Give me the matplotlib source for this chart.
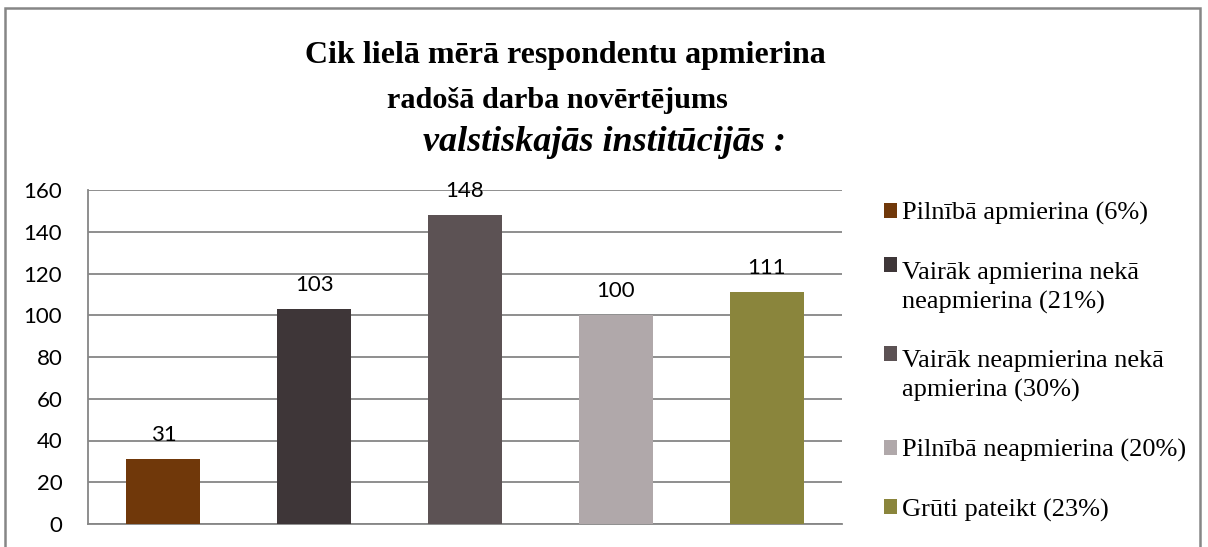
import matplotlib
matplotlib.use('Agg')
import matplotlib.pyplot as plt
from matplotlib.patches import Patch, Rectangle
from matplotlib.legend_handler import HandlerBase

W, H = 1208, 547

categories = ['Pilnībā apmierina (6%)',
              'Vairāk apmierina nekā\nneapmierina (21%)',
              'Vairāk neapmierina nekā\napmierina (30%)',
              'Pilnībā neapmierina (20%)',
              'Grūti pateikt (23%)']
values = [31, 103, 148, 100, 111]
colors = ['#70380A', '#3E3638', '#5C5254', '#B0A8AA', '#8A853C']
yticks = [0, 20, 40, 60, 80, 100, 120, 140, 160]

LSP = 1.38  # legend line spacing


class FirstLineSquare(HandlerBase):
    """Square legend key aligned with the first line of a (multi-line) label."""

    def __init__(self, nlines):
        super().__init__()
        self.nlines = nlines

    def create_artists(self, legend, orig_handle, xdescent, ydescent,
                       width, height, fontsize, trans):
        lift = 0.5 * 1.2 * LSP * fontsize * (self.nlines - 1)
        p = Rectangle((-xdescent, -ydescent + lift), width, height,
                      facecolor=orig_handle.get_facecolor(), edgecolor='none',
                      transform=trans)
        return [p]


fig = plt.figure(figsize=(W / 100, H / 100), dpi=100, facecolor='white')

# outer chart frame (bottom edge is cut off in the original)
fig.patches.append(Rectangle((5 / W, -0.05), 1195 / W, 1.05 - 8 / H,
                             transform=fig.transFigure, fill=False,
                             ec='#868686', lw=1.8))

ax = fig.add_axes([88 / W, 1 - 524 / H, (842 - 88) / W, (524 - 190) / H])
x = list(range(len(values)))
ax.bar(x, values, width=0.49, color=colors, zorder=3)
ax.set_xlim(-0.5, len(values) - 0.5)
ax.set_ylim(0, 160)
ax.set_yticks(yticks)
ax.set_xticks([])
ax.tick_params(axis='y', length=0, pad=18.5, labelsize=16, labelcolor='black')
for lbl in ax.get_yticklabels():
    lbl.set_family('Lato')
ax.grid(axis='y', color='#868686', lw=1.3, zorder=0)
for s in ('top', 'right'):
    ax.spines[s].set_visible(False)
for s in ('left', 'bottom'):
    ax.spines[s].set_color('#868686')
    ax.spines[s].set_linewidth(1.3)

for xi, v in zip(x, values):
    ax.annotate(str(v), (xi, v), xytext=(0, 10), textcoords='offset points',
                ha='center', va='bottom', fontsize=16, family='Lato',
                color='black')

fig.text(565 / W, 1 - 63 / H, 'Cik lielā mērā respondentu apmierina',
         ha='center', va='baseline', fontsize=23, fontweight='bold',
         family='Liberation Serif')
fig.text(557 / W, 1 - 108 / H, 'radošā darba novērtējums',
         ha='center', va='baseline', fontsize=21.8, fontweight='bold',
         family='Liberation Serif')
fig.text(604 / W, 1 - 151 / H, 'valstiskajās institūcijās :',
         ha='center', va='baseline', fontsize=26, fontweight='bold',
         style='italic', family='Liberation Serif')

handles = [Patch(facecolor=c) for c in colors]
hmap = {h: FirstLineSquare(lab.count('\n') + 1) for h, lab in zip(handles, categories)}
leg = fig.legend(handles, categories, loc='upper left', handler_map=hmap,
                 bbox_to_anchor=(884 / W, 1 - 202 / H), frameon=False,
                 prop={'family': 'Liberation Serif', 'size': 19},
                 handlelength=0.5, handleheight=0.5, handletextpad=0.2,
                 labelspacing=1.39, borderpad=0, borderaxespad=0)
for t in leg.get_texts():
    t.set_linespacing(LSP)

fig.savefig('out.png', dpi=100, facecolor='white')
